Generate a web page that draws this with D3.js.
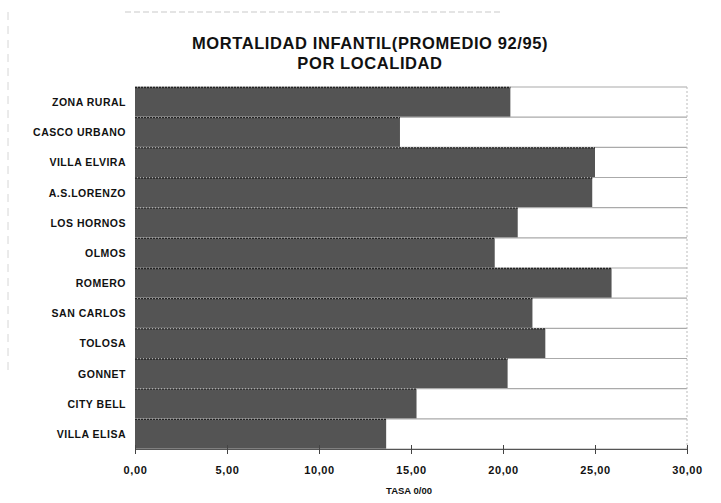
<!DOCTYPE html>
<html><head><meta charset="utf-8">
<script src="https://cdn.jsdelivr.net/npm/d3@7"></script>
<style>body{margin:0;background:#fff}svg{display:block}</style>
</head><body>
<script>
const categories = ["ZONA RURAL","CASCO URBANO","VILLA ELVIRA","A.S.LORENZO","LOS HORNOS","OLMOS","ROMERO","SAN CARLOS","TOLOSA","GONNET","CITY BELL","VILLA ELISA"];
const values = [20.4, 14.4, 25.0, 24.85, 20.8, 19.55, 25.9, 21.6, 22.3, 20.25, 15.3, 13.65];
const xTicks = [0,5,10,15,20,25,30];
const titleLines = ["MORTALIDAD INFANTIL(PROMEDIO 92/95)","POR LOCALIDAD"];
const xTitle = "TASA 0/00";

const W=721,H=503;
const m={left:135,right:34,top:87,bottom:54};
const svg=d3.select("body").append("svg").attr("width",W).attr("height",H);
const x=d3.scaleLinear().domain([0,30]).range([m.left,W-m.right]);
const y=d3.scaleBand().domain(categories).range([m.top,H-m.bottom]).padding(0);

// faint scan borders
svg.append("line").attr("x1",125).attr("x2",500).attr("y1",12).attr("y2",12)
  .attr("stroke","#bbb").attr("stroke-dasharray","6,3").attr("stroke-width",0.8);
svg.append("line").attr("x1",8).attr("x2",8).attr("y1",12).attr("y2",370)
  .attr("stroke","#ccc").attr("stroke-dasharray","8,6").attr("stroke-width",0.8);

// title
svg.append("g").selectAll("text").data(titleLines).join("text")
  .attr("x",370).attr("y",(d,i)=>49+i*20).attr("text-anchor","middle")
  .attr("font-family","Liberation Sans, Arial, sans-serif").attr("font-weight","bold")
  .attr("font-size",16.5).attr("letter-spacing",0.6).attr("fill","#111").text(d=>d);

// bars
svg.append("g").selectAll("rect").data(values).join("rect")
  .attr("x",x(0)).attr("y",(d,i)=>y(categories[i]))
  .attr("width",d=>x(d)-x(0)).attr("height",y.bandwidth())
  .attr("fill","#545454");

// row separators
const bounds=categories.map(c=>y(c)).concat([y.range()[1]]);
svg.append("g").selectAll("line").data(bounds).join("line")
  .attr("x1",x(0)).attr("x2",x(30)).attr("y1",d=>d).attr("y2",d=>d)
  .attr("stroke","#aaa").attr("stroke-width",1.2);
svg.append("g").selectAll("line").data(values).join("line")
  .attr("x1",x(0)).attr("x2",d=>x(d)).attr("y1",(d,i)=>y(categories[i])+0.5).attr("y2",(d,i)=>y(categories[i])+0.5)
  .attr("stroke","#222").attr("stroke-width",1.4).attr("stroke-dasharray","2,1");

// right border
svg.append("line").attr("x1",x(30)).attr("x2",x(30)).attr("y1",m.top).attr("y2",H-m.bottom)
  .attr("stroke","#bbb").attr("stroke-dasharray","2,2");

// category labels
svg.append("g").selectAll("text").data(categories).join("text")
  .attr("x",m.left-9).attr("y",d=>y(d)+y.bandwidth()/2+4).attr("text-anchor","end")
  .attr("font-family","Liberation Sans, Arial, sans-serif").attr("font-weight","bold")
  .attr("font-size",10.5).attr("letter-spacing",0.5).attr("fill","#111").text(d=>d);

// x axis
const ax=svg.append("g").attr("transform",`translate(0,${H-m.bottom})`)
  .call(d3.axisBottom(x).tickValues(xTicks).tickSize(5).tickSizeOuter(0)
    .tickFormat(d=>d3.format(".2f")(d).replace(".",",")));
ax.select(".domain").attr("stroke","#555");
ax.selectAll(".tick line").attr("stroke","#444").attr("y1",-4);
ax.selectAll("text").attr("font-family","Liberation Sans, Arial, sans-serif").attr("font-weight","bold")
  .attr("font-size",11).attr("letter-spacing",0.6).attr("fill","#111").attr("dy","1.5em");

svg.append("text").attr("x",x(15)-2).attr("y",494).attr("text-anchor","middle")
  .attr("font-family","Liberation Sans, Arial, sans-serif").attr("font-weight","bold")
  .attr("font-size",9.5).attr("fill","#111").text(xTitle);
</script>
</body></html>
